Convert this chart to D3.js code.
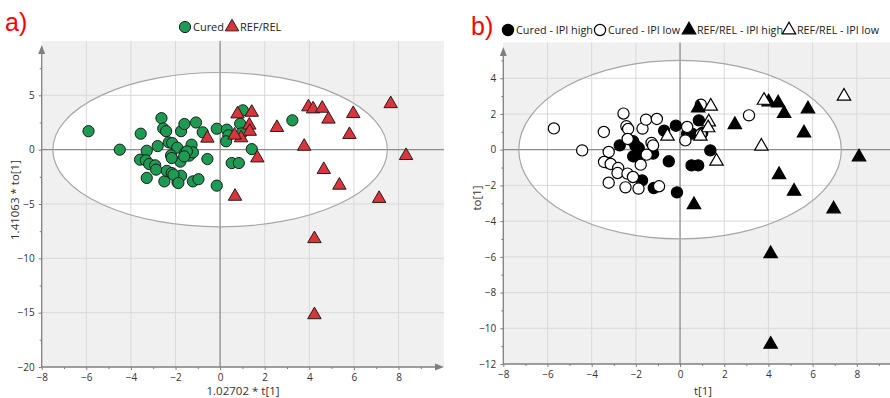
<!DOCTYPE html>
<html>
<head>
<meta charset="utf-8">
<script src="https://cdn.jsdelivr.net/npm/d3@7"></script>
<style>
  body { margin: 0; background: #fff; }
  svg { display: block; font-family: 'Open Sans', sans-serif; }
</style>
</head>
<body>
<div id="chart"></div>
<script>
// panel a) scores, scaled axes
const curedA = [
  [-5.9, 1.7], [-4.5, 0.0], [-3.56, 1.47], [-2.63, 2.9], [-2.55, 1.95], [-2.42, 1.7],
  [-1.75, 1.7], [-1.6, 2.36], [-1.08, 2.5], [-0.78, 1.6], [-0.15, 1.93], [0.3, 1.84],
  [0.37, 1.32], [0.27, 0.77], [0.9, 2.39], [1.02, 3.62], [0.97, 1.5], [1.42, 0.05],
  [0.52, -1.23], [0.84, -1.23], [-0.57, -0.86], [-0.15, -3.31], [3.24, 2.7],
  [-2.8, 0.33], [-3.29, -0.1], [-3.59, -0.92], [-3.33, -0.98], [-3.18, -1.32],
  [-2.91, -1.44], [-2.87, -1.84], [-3.29, -2.6], [-2.5, -2.92], [-1.91, -3.0],
  [-1.22, -2.92], [-0.97, -2.72], [-2.39, -1.95], [-2.17, -2.15], [-1.75, -2.4],
  [-2.3, 0.67], [-2.15, 0.61], [-1.92, 0.18], [-2.2, -0.52], [-1.78, -1.1],
  [-1.56, -0.25], [-1.38, -0.55], [-1.28, 0.46], [-1.22, -0.25], [-1.49, -0.16],
  [-1.61, -0.62], [-2.17, -0.77], [-2.09, -2.3], [-1.87, -3.07]
];
const refRelA = [
  [-0.57, 1.05], [0.78, 3.28], [1.42, 3.43], [1.31, 2.25], [1.33, 1.68], [0.94, 1.08],
  [0.65, 1.33], [1.67, -0.77], [2.55, 2.03], [3.77, 0.3], [3.96, 3.93], [4.17, 3.74],
  [4.58, 3.8], [4.86, 2.8], [5.97, 3.31], [5.8, 1.38], [7.65, 4.22], [8.34, -0.55],
  [4.65, -1.84], [5.35, -3.28], [0.67, -4.3], [7.13, -4.5], [4.23, -8.2], [4.23, -15.2]
];

// panel b) scores, split by IPI
const curedHighB = [
  [-2.73, 0.24], [-2.12, 0.47], [-2.02, 0.22], [-1.87, 0.09], [-2.12, -0.37], [-1.9, -0.43],
  [-1.22, -0.22], [-3.23, -0.75], [-0.51, -0.65], [-1.72, -1.72], [-1.19, -2.15],
  [-0.14, -2.39], [-0.72, 1.06], [-0.19, 1.34], [0.32, 0.9], [0.54, 0.9], [0.85, 1.64],
  [1.0, 0.93], [1.37, -0.04], [0.52, -0.88], [0.82, -0.88]
];
const curedLowB = [
  [-5.71, 1.19], [-4.43, -0.04], [-3.45, 0.99], [-2.56, 2.02], [-2.43, 1.31], [-2.35, 1.16],
  [-1.7, 1.18], [-1.54, 1.68], [-1.05, 1.72], [-2.37, 0.6], [-1.29, 0.38], [-1.22, 0.24],
  [-3.23, -0.13], [-3.44, -0.69], [-3.14, -0.8], [-2.8, -1.03], [-2.83, -1.31],
  [-2.38, -1.34], [-2.13, -1.53], [-3.23, -1.85], [-2.47, -2.11], [-1.88, -2.18],
  [-0.95, -2.05], [-1.78, -0.84], [-1.51, -0.28], [0.32, 1.27], [0.24, 0.52],
  [0.94, 2.52], [3.12, 1.92], [0.94, 0.86]
];
const refHighB = [
  [0.82, 2.33], [2.48, 1.4], [4.01, 2.67], [4.44, 2.61], [4.71, 2.02], [5.79, 2.28],
  [5.61, 0.93], [8.1, -0.41], [4.48, -1.4], [5.16, -2.33], [0.63, -3.08], [6.95, -3.32],
  [4.1, -5.83], [4.1, -10.9]
];
const refLowB = [
  [-0.57, 0.75], [1.39, 2.43], [1.3, 1.55], [1.27, 1.22], [0.92, 0.75], [1.65, -0.65],
  [3.8, 2.76], [3.68, 0.19], [7.42, 2.99]
];

const xTicks = [-8, -6, -4, -2, 0, 2, 4, 6, 8];
const yTicksA = [-20, -15, -10, -5, 0, 5];
const yTicksB = [-12, -10, -8, -6, -4, -2, 0, 2, 4];

const width = 890, height = 398;
const svg = d3.select('#chart').append('svg')
  .attr('width', width)
  .attr('height', height);

const tri = d3.symbol().type(d3.symbolTriangle).size(78)();

function marker(g, s, cx, cy) {
  if (s.shape === 'circle') {
    return g.append('circle').attr('cx', cx).attr('cy', cy).attr('r', 5.6)
      .attr('fill', s.fill).attr('stroke', s.stroke).attr('stroke-width', s.sw);
  }
  return g.append('path').attr('d', tri).attr('transform', `translate(${cx},${cy})`)
    .attr('fill', s.fill).attr('stroke', s.stroke).attr('stroke-width', s.sw);
}

function drawPanel(p) {
  const x = d3.scaleLinear().domain(p.xDomain).range([p.left, p.xEnd]);
  const y = d3.scaleLinear().domain(p.yDomain).range([p.bottom, p.top]);
  const g = svg.append('g');
  const right = p.bgRight;

  // gray plot area + white ellipse interior
  g.append('rect')
    .attr('x', p.left).attr('y', p.top)
    .attr('width', right - p.left).attr('height', p.bottom - p.top)
    .attr('fill', '#f0f0f0');
  const ell = {
    cx: x(0), cy: y(0),
    rx: x(p.ellipse[0]) - x(0), ry: y(0) - y(p.ellipse[1])
  };
  g.append('ellipse')
    .attr('cx', ell.cx).attr('cy', ell.cy).attr('rx', ell.rx).attr('ry', ell.ry)
    .attr('fill', '#fff');

  // grid
  g.selectAll('line.gx').data(p.gridX).enter().append('line')
    .attr('x1', d => x(d)).attr('x2', d => x(d))
    .attr('y1', p.top).attr('y2', p.bottom)
    .attr('stroke', '#d9d9d9').attr('stroke-width', 1);
  g.selectAll('line.gy').data(p.gridY).enter().append('line')
    .attr('x1', p.left).attr('x2', right)
    .attr('y1', d => y(d)).attr('y2', d => y(d))
    .attr('stroke', '#d9d9d9').attr('stroke-width', 1);

  // zero lines
  g.append('line')
    .attr('x1', x(0)).attr('x2', x(0)).attr('y1', p.top).attr('y2', p.bottom)
    .attr('stroke', '#8c8c8c').attr('stroke-width', 1.3);
  g.append('line')
    .attr('x1', p.left).attr('x2', right).attr('y1', y(0)).attr('y2', y(0))
    .attr('stroke', '#8c8c8c').attr('stroke-width', 1.3);

  g.append('ellipse')
    .attr('cx', ell.cx).attr('cy', ell.cy).attr('rx', ell.rx).attr('ry', ell.ry)
    .attr('fill', 'none').attr('stroke', '#a6a6a6').attr('stroke-width', 1.2);

  // axes
  const xAxis = g.append('g').attr('transform', `translate(0,${p.bottom})`)
    .call(d3.axisBottom(x).tickValues(xTicks).tickSize(3).tickPadding(4));
  g.append('g').attr('transform', `translate(0,${p.bottom})`)
    .call(d3.axisBottom(x).tickValues(p.xMinor).tickSize(2).tickFormat(''))
    .select('.domain').remove();
  const yAxis = g.append('g').attr('transform', `translate(${p.left},0)`)
    .call(d3.axisLeft(y).tickValues(p.yTicks).tickSize(3).tickPadding(4));
  g.append('g').attr('transform', `translate(${p.left},0)`)
    .call(d3.axisLeft(y).tickValues(p.yMinor).tickSize(2).tickFormat(''))
    .select('.domain').remove();

  [xAxis, yAxis].forEach(ax => {
    ax.select('.domain').remove();
    ax.selectAll('text').attr('fill', '#333').style('font-size', '10px')
      .style('font-family', "'Open Sans', sans-serif");
  });
  g.selectAll('.tick line').attr('stroke', '#7f7f7f');

  // axis lines with arrows
  g.append('line')
    .attr('x1', p.left).attr('x2', p.arrowX - 6)
    .attr('y1', p.bottom).attr('y2', p.bottom)
    .attr('stroke', '#7f7f7f').attr('stroke-width', 1.3);
  g.append('path')
    .attr('d', `M${p.arrowX},${p.bottom} l-9,-3.5 l0,7 z`)
    .attr('fill', '#7f7f7f');
  g.append('line')
    .attr('x1', p.left).attr('x2', p.left)
    .attr('y1', p.bottom).attr('y2', p.arrowY + 6)
    .attr('stroke', '#7f7f7f').attr('stroke-width', 1.3);
  g.append('path')
    .attr('d', `M${p.left},${p.arrowY} l-3.5,9 l7,0 z`)
    .attr('fill', '#7f7f7f');

  // axis titles
  g.append('text')
    .attr('x', p.xTitle[0]).attr('y', p.xTitle[1])
    .attr('text-anchor', 'middle')
    .attr('fill', '#333').style('font-size', '11.5px')
    .text(p.xLabel);
  g.append('text')
    .attr('transform', `translate(${p.yTitle[0]},${p.yTitle[1]}) rotate(-90)`)
    .attr('text-anchor', 'middle')
    .attr('fill', '#333').style('font-size', '11.5px')
    .text(p.yLabel);

  // points
  p.series.forEach(s => {
    s.data.forEach(d => marker(g, s, x(d[0]), y(d[1])));
  });

  // legend: marker centre x per item, text follows
  p.series.forEach((s, i) => {
    const lx = p.legendX[i];
    marker(g, s, lx, p.legendY);
    const t = g.append('text')
      .attr('x', lx + 8).attr('y', p.legendY + 4)
      .attr('fill', '#222').style('font-size', p.legendFont)
      .text(s.name);
    const w = t.node().getComputedTextLength();
    if (w > p.legendW[i]) t.attr('textLength', p.legendW[i]).attr('lengthAdjust', 'spacingAndGlyphs');
  });

  // panel letter
  svg.append('text')
    .attr('x', p.letter[0]).attr('y', p.letter[1])
    .attr('fill', '#ff0000')
    .style('font-size', '25px')
    .style('font-family', "'Liberation Sans', Arial, sans-serif")
    .text(p.letterText);
}

const odd = d3.range(-7, 10, 2);

drawPanel({
  left: 41.7, xEnd: 443.1, bottom: 367, top: 41, bgRight: 444,
  xDomain: [-8, 10], yDomain: [-20, 10],
  arrowX: 444, arrowY: 45,
  gridX: [-6, -4, -2, 2, 4, 6, 8], gridY: [-15, -10, -5, 5],
  xMinor: odd, yTicks: yTicksA, yMinor: [-17.5, -12.5, -7.5, -2.5, 2.5, 7.5],
  ellipse: [7.5, 7.1],
  xLabel: '1.02702 * t[1]', xTitle: [243, 395],
  yLabel: '1.41063 * to[1]', yTitle: [19, 200],
  legendX: [185, 232], legendY: 27, legendW: [31, 42], legendFont: '11px',
  letter: [5, 31], letterText: 'a)',
  series: [
    { name: 'Cured', data: curedA, shape: 'circle', fill: '#1e9b52', stroke: '#1b1b1b', sw: 1 },
    { name: 'REF/REL', data: refRelA, shape: 'tri', fill: '#d8353c', stroke: '#2a1a1a', sw: 1 }
  ]
});

drawPanel({
  left: 503.3, xEnd: 901, bottom: 364, top: 42.5, bgRight: 890,
  xDomain: [-8, 10], yDomain: [-12, 6],
  arrowX: 900, arrowY: 47,
  gridX: [-6, -4, -2, 2, 4, 6, 8], gridY: [-10, -8, -6, -4, -2, 2, 4],
  xMinor: odd, yTicks: yTicksB, yMinor: d3.range(-11, 6, 2),
  ellipse: [7.3, 5.0],
  xLabel: 't[1]', xTitle: [703, 395],
  yLabel: 'to[1]', yTitle: [481, 198],
  legendX: [508, 600, 689, 789], legendY: 30, legendW: [77, 72, 86, 82], legendFont: '11px',
  letter: [471, 35], letterText: 'b)',
  series: [
    { name: 'Cured - IPI high', data: curedHighB, shape: 'circle', fill: '#000', stroke: '#000', sw: 1.2 },
    { name: 'Cured - IPI low', data: curedLowB, shape: 'circle', fill: '#fff', stroke: '#000', sw: 1.2 },
    { name: 'REF/REL - IPI high', data: refHighB, shape: 'tri', fill: '#000', stroke: '#000', sw: 1.2 },
    { name: 'REF/REL - IPI low', data: refLowB, shape: 'tri', fill: '#fff', stroke: '#000', sw: 1.2 }
  ]
});
</script>
</body>
</html>
